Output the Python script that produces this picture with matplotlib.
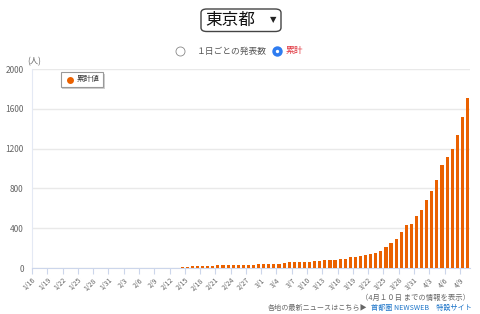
import matplotlib.pyplot as plt
from matplotlib.lines import Line2D
from matplotlib.patches import FancyBboxPatch
import numpy as np
import pandas as pd

plt.rcParams["font.family"] = ["Noto Sans CJK JP", "DejaVu Sans"]

DATES = pd.date_range("2020-01-16", "2020-04-10")
CUMULATIVE = [
    # 1/16 - 1/31
    0, 0, 0, 0, 0, 0, 0, 0, 1, 2, 2, 2, 2, 2, 3, 3,
    # 2/1 - 2/29
    3, 3, 3, 3, 3, 3, 3, 3, 3, 3, 3, 3, 4, 6, 14, 19, 19, 22, 25, 25,
    28, 29, 29, 30, 30, 33, 34, 35, 36,
    # 3/1 - 3/31
    39, 39, 41, 43, 51, 57, 59, 60, 60, 62, 68, 72, 77, 82, 84, 88, 95,
    107, 114, 124, 130, 137, 150, 168, 210, 256, 296, 361, 431, 443, 518,
    # 4/1 - 4/10
    587, 684, 773, 889, 1033, 1115, 1195, 1335, 1517, 1704,
]
TICK_LABELS = [
    "1/16", "1/19", "1/22", "1/25", "1/28", "1/31", "2/3", "2/6", "2/9",
    "2/12", "2/15", "2/18", "2/21", "2/24", "2/27", "3/1", "3/4", "3/7",
    "3/10", "3/13", "3/16", "3/19", "3/22", "3/25", "3/28", "3/31", "4/3",
    "4/6", "4/9",
]
Y_TICKS = [0, 400, 800, 1200, 1600, 2000]

W, H = 480, 314
BAR = "#ea6100"
GRAY = "#666666"
AXIS = "#ccd6eb"


def px(x, y):
    return x / W, 1 - y / H


def dot(x, y, size, face, edge="none", lw=0.0):
    fx, fy = px(x, y)
    fig.add_artist(Line2D([fx], [fy], marker="o", markersize=size,
                          markerfacecolor=face, markeredgecolor=edge,
                          markeredgewidth=lw, linestyle="none",
                          transform=fig.transFigure))


fig = plt.figure(figsize=(4.8, 3.14), dpi=100)
ax = fig.add_axes([32 / W, 1 - 268 / H, (470 - 32) / W, (268 - 69) / H])

x = np.arange(len(DATES))
ax.bar(x, CUMULATIVE, width=0.62, color=BAR, zorder=3)

ax.set_xlim(-0.5, len(DATES) - 0.5)
ax.set_ylim(0, 2000)
ax.set_yticks(Y_TICKS, [str(v) for v in Y_TICKS])
ax.set_xticks(np.arange(0, len(DATES), 3) - 0.5, TICK_LABELS,
              rotation=45, ha="right", rotation_mode="anchor")
ax.tick_params(axis="x", length=4, color=AXIS, labelsize=5,
               labelcolor=GRAY, pad=2)
ax.tick_params(axis="y", length=0, labelsize=6, labelcolor=GRAY, pad=6)
ax.grid(axis="y", color="#e9e9e9", linewidth=1)
ax.set_axisbelow(True)
for side in ["top", "right"]:
    ax.spines[side].set_visible(False)
ax.spines["left"].set_color("#e4e9f4")
ax.spines["bottom"].set_color(AXIS)

fig.text(*px(27, 62), "(人)", fontsize=6, color=GRAY, va="center")

# legend box
shadow = FancyBboxPatch(px(62, 89), 43 / W, 15 / H, boxstyle="square,pad=0",
                        transform=fig.transFigure, facecolor="#d0d0d0",
                        edgecolor="none")
box = FancyBboxPatch(px(61, 87), 42 / W, 15 / H, boxstyle="square,pad=0",
                     transform=fig.transFigure, facecolor="white",
                     edgecolor="#999999", linewidth=0.8)
fig.add_artist(shadow)
fig.add_artist(box)
dot(70, 79.5, 5, BAR)
fig.text(*px(77, 79.5), "累計値", fontsize=5.5, color="#333333", va="center")

# dropdown
drop = FancyBboxPatch(px(201, 31.5), 80 / W, 22.5 / H,
                      boxstyle="round,pad=0,rounding_size=0.012",
                      transform=fig.transFigure, facecolor="white",
                      edgecolor="#444444", linewidth=1)
fig.add_artist(drop)
fig.text(*px(205, 20.5), "東京都", fontsize=12, color="#111111", va="center")
fig.text(*px(273, 20), "▼", fontsize=6, color="#222222", va="center",
         ha="center", family="DejaVu Sans")

# radio buttons
dot(180, 51, 6.5, "white", "#888888", 0.6)
fig.text(*px(197, 51), "１日ごとの発表数", fontsize=6.3, color="#555555",
         va="center")
dot(276.5, 51, 7.5, "#2f7cf0")
dot(276.5, 51, 2.4, "white")
fig.text(*px(286, 51), "累計", fontsize=6.3, color="#e0303a", va="center")

# footer
fig.text(*px(470, 297.5), "（4月１０日 までの情報を表示）", fontsize=5.3,
         color=GRAY, ha="right", va="center")
fig.text(*px(472, 308), "首都圏 NEWSWEB　特設サイト", fontsize=5.1,
         color="#1a73c8", ha="right", va="center")
fig.text(*px(368, 308), "各地の最新ニュースはこちら▶", fontsize=5.1,
         color=GRAY, ha="right", va="center")

fig.savefig("out.png", dpi=100)
